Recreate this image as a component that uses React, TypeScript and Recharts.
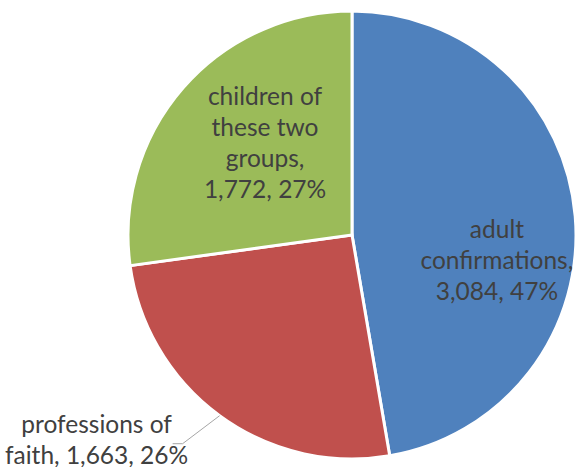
import { PieChart, Pie, Cell } from 'recharts';

// Membership growth by type
const CATEGORIES = ['adult confirmations', 'professions of faith', 'children of these two groups'];
const VALUES = [3084, 1663, 1772];
const PERCENTS = ['47%', '26%', '27%'];
const COLORS = ['#4F81BD', '#C0504D', '#9BBB59'];

// how each label is broken into lines
const LABEL_LINES = [
  ['adult', 'confirmations,', '3,084, 47%'],
  ['professions of', 'faith, 1,663, 26%'],
  ['children of', 'these two', 'groups,', '1,772, 27%'],
];

const data = CATEGORIES.map((name, i) => ({ name, value: VALUES[i], pct: PERCENTS[i] }));

const RAD = Math.PI / 180;
const FONT = 'Lato, "Open Sans", sans-serif';
const FONT_SIZE = 24.5;
const LINE_H = 31;

// inside labels sit at a fraction of the radius; the small slice gets a leader line
const LABEL_POS = [
  { inside: true, r: 0.656, angleShift: -14.4 },
  { inside: false, r: 0, angleShift: 0 },
  { inside: true, r: 0.57, angleShift: -6 },
];

function renderLabel(props: any) {
  const { cx, cy, midAngle, outerRadius, index } = props;
  const lines = LABEL_LINES[index];
  const pos = LABEL_POS[index];

  if (pos.inside) {
    const a = (midAngle + pos.angleShift) * RAD;
    const x = cx + outerRadius * pos.r * Math.cos(a);
    const y = cy - outerRadius * pos.r * Math.sin(a);
    const top = y - ((lines.length - 1) * LINE_H) / 2;
    return (
      <text x={x} y={top} textAnchor="middle" dominantBaseline="central" fill="#404040" fontSize={FONT_SIZE} fontFamily={FONT}>
        {lines.map((l, i) => (
          <tspan key={i} x={x} y={top + i * LINE_H}>{l}</tspan>
        ))}
      </text>
    );
  }

  const a = midAngle * RAD;
  const x0 = cx + outerRadius * Math.cos(a);
  const y0 = cy - outerRadius * Math.sin(a);
  const x1 = x0 - 37;
  const y1 = y0 + 28;
  const x2 = x1 - 10;
  const tx = x1 - 86;
  const top = y1 - 21;
  return (
    <g>
      <polyline points={`${x0},${y0} ${x1},${y1} ${x2},${y1}`} fill="none" stroke="#A6A6A6" strokeWidth={1} />
      <text x={tx} y={top} textAnchor="middle" dominantBaseline="central" fill="#404040" fontSize={FONT_SIZE} fontFamily={FONT}>
        {lines.map((l, i) => (
          <tspan key={i} x={tx} y={top + i * LINE_H}>{l}</tspan>
        ))}
      </text>
    </g>
  );
}

export default function App() {
  return (
    <div style={{ position: 'absolute', left: 0, top: 0, width: 576, height: 467, background: '#fff' }}>
      <PieChart width={576} height={467} margin={{ top: 0, right: 0, bottom: 0, left: 0 }}>
        <Pie
          data={data}
          dataKey="value"
          nameKey="name"
          cx={352}
          cy={235}
          outerRadius={224}
          startAngle={90}
          endAngle={-270}
          stroke="#fff"
          strokeWidth={3}
          label={renderLabel}
          labelLine={false}
          isAnimationActive={false}
        >
          {data.map((d, i) => (
            <Cell key={d.name} fill={COLORS[i]} />
          ))}
        </Pie>
      </PieChart>
    </div>
  );
}
